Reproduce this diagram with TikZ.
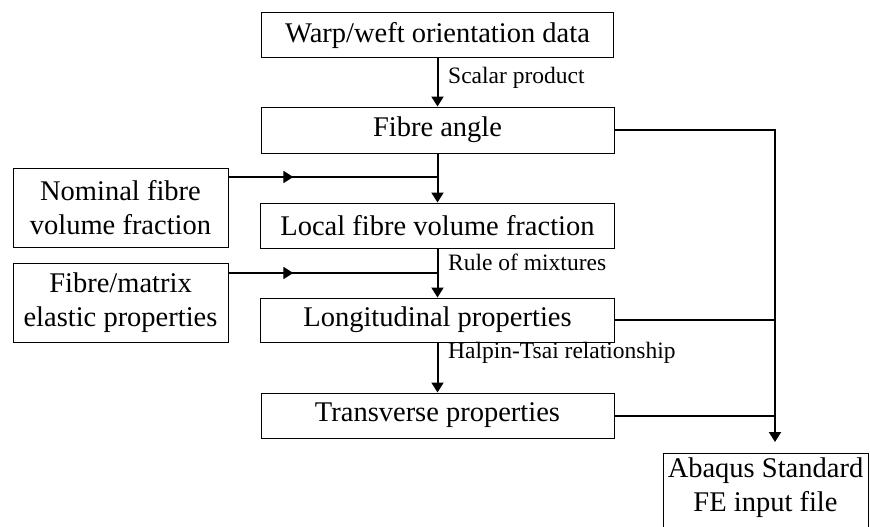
\documentclass[tikz,border=0pt]{standalone}
\usepackage{fontspec}
\setmainfont{Liberation Serif}
\usetikzlibrary{arrows.meta,decorations.markings}
\begin{document}
\begin{tikzpicture}[x=1pt,y=-1pt,
 box/.style={draw,line width=1pt,rectangle,inner sep=0pt,align=center,font=\fontsize{28.5}{34}\selectfont},
 arr/.style={line width=2pt,-{Triangle[width=12pt,length=10pt]}},
 ln/.style={line width=2pt},
 lbl/.style={font=\fontsize{23.5}{26}\selectfont,anchor=west,inner sep=0pt},
 midarr/.style={postaction={decorate},decoration={markings,mark=at position #1 with {\arrow{Triangle[width=12pt,length=10pt]}}}}
]
\useasboundingbox (0,0) rectangle (870,527);
\clip (0,0) rectangle (870,527);
\node[box,minimum width=352pt,minimum height=45pt] (warp) at (437.5,35.5) {Warp/weft orientation data};
\node[box,minimum width=353pt,minimum height=46pt] (fibre) at (437.5,130) {Fibre angle};
\node[box,minimum width=354pt,minimum height=45pt] (local) at (437.5,225.5) {Local fibre volume fraction};
\node[box,minimum width=354pt,minimum height=44pt] (long) at (437.5,320) {Longitudinal properties};
\node[box,minimum width=353pt,minimum height=45pt] (trans) at (437.5,415.5) {Transverse properties};
\node[box,minimum width=215pt,minimum height=79pt] (nominal) at (120.5,207.5) {Nominal fibre\\volume fraction};
\node[box,minimum width=215pt,minimum height=79pt] (fm) at (120.5,302.5) {Fibre/matrix\\elastic properties};
\node[box,minimum width=205pt,minimum height=96pt,anchor=north] (abaqus) at (765.5,453) {Abaqus Standard\\FE input file\\\mbox{}};
\draw[arr] (warp) -- (fibre);
\draw[arr] (fibre) -- (local);
\draw[arr] (local) -- (long);
\draw[arr] (long) -- (trans);
\coordinate (j1) at (437.5,177);
\coordinate (j2) at (437.5,273);
\coordinate (bus) at (775,0);
\draw[ln,midarr=0.31] (nominal.east |- j1) -- (j1);
\draw[ln,midarr=0.31] (fm.east |- j2) -- (j2);
\draw[arr,shorten >=11pt] (fibre.east) -- (fibre.east -| bus) -- (bus |- abaqus.north);
\draw[ln] (long.east) -- (long.east -| bus);
\draw[ln] (trans.east) -- (trans.east -| bus);
\node[lbl] (sp) at (448,78) {Scalar product};
\node[lbl] (rm) at (448,262) {Rule of mixtures};
\node[lbl] (ht) at (448,353) {Halpin-Tsai relationship};
\end{tikzpicture}
\end{document}
